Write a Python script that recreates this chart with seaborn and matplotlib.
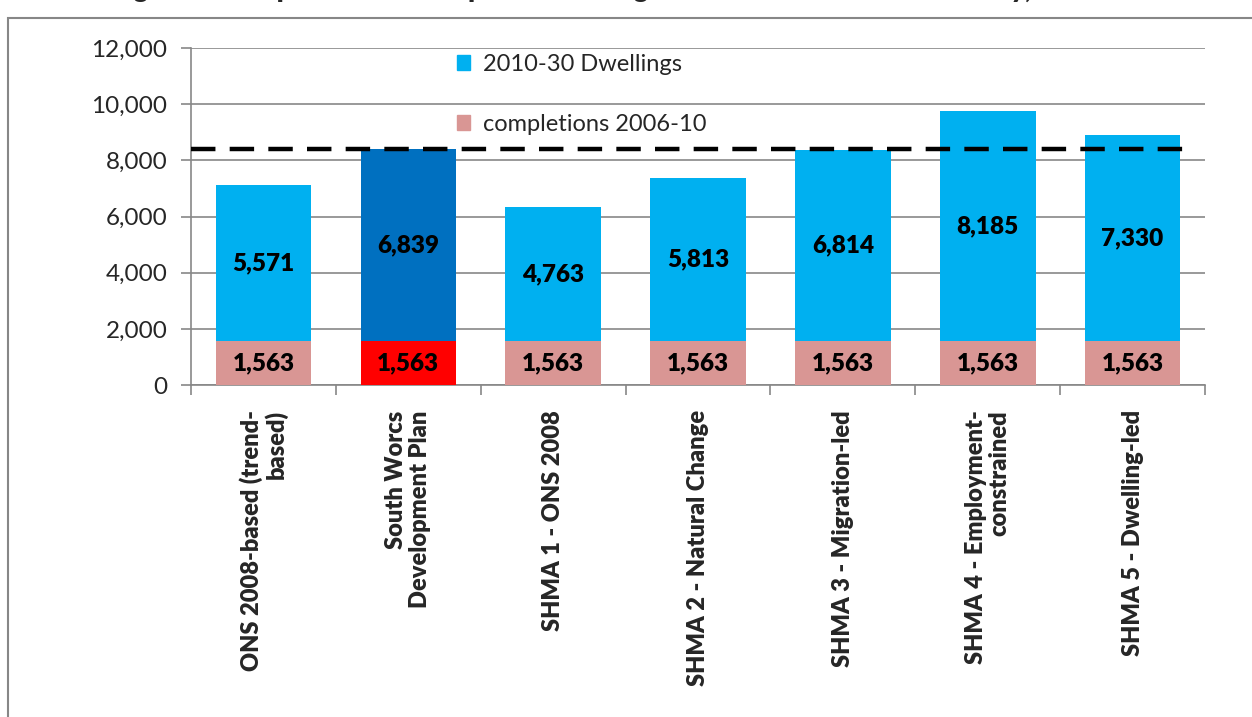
import matplotlib
matplotlib.use("Agg")
import matplotlib.pyplot as plt
import matplotlib.patches as mpatches
from matplotlib.ticker import FuncFormatter, MultipleLocator
import seaborn as sns
import pandas as pd

# Scenario data (dwellings)
scenarios = [
    "ONS 2008-based (trend-\nbased)",
    "South Worcs\nDevelopment Plan",
    "SHMA 1 - ONS 2008",
    "SHMA 2 - Natural Change",
    "SHMA 3 - Migration-led",
    "SHMA 4 - Employment-\nconstrained",
    "SHMA 5 - Dwelling-led",
]
completions_2006_10 = [1563, 1563, 1563, 1563, 1563, 1563, 1563]
dwellings_2010_30 = [5571, 6839, 4763, 5813, 6814, 8185, 7330]
highlight = "South Worcs\nDevelopment Plan"
title = "Figure 6: Completions and Required Dwellings for Scenarios - Worcester City, 2006-30"

LIGHT_BLUE = "#00B0F0"
DARK_BLUE = "#0070C0"
PINK = "#D99694"
RED = "#FF0000"
GREY = "#878787"

df = pd.DataFrame({
    "scenario": scenarios,
    "completions": completions_2006_10,
    "dwellings": dwellings_2010_30,
})
df["total"] = df["completions"] + df["dwellings"]
reference_level = float(df.loc[df["scenario"] == highlight, "total"].iloc[0])

sns.set_style("white")
plt.rcParams["font.family"] = ["Lato", "DejaVu Sans"]

fig = plt.figure(figsize=(12.52, 7.17), dpi=100)
ax = fig.add_axes([0.1526, 0.463, 0.8099, 0.470])

top_colors = [DARK_BLUE if s == highlight else LIGHT_BLUE for s in scenarios]
bottom_colors = [RED if s == highlight else PINK for s in scenarios]

# Upper segment drawn as the full stack height, lower segment over it
sns.barplot(data=df, x="scenario", y="total", hue="scenario",
            palette=top_colors, legend=False, width=0.66,
            saturation=1, ax=ax, zorder=2)
sns.barplot(data=df, x="scenario", y="completions", hue="scenario",
            palette=bottom_colors, legend=False, width=0.66,
            saturation=1, ax=ax, zorder=3)
for p in ax.patches:
    p.set_edgecolor("none")

# Value labels centred in each segment
for i, row in df.iterrows():
    ax.text(i, row["completions"] / 2, f"{row['completions']:,}",
            ha="center", va="center", fontsize=17.5, fontweight="heavy",
            color="black", zorder=5)
    ax.text(i, row["completions"] + row["dwellings"] / 2, f"{row['dwellings']:,}",
            ha="center", va="center", fontsize=17.5, fontweight="heavy",
            color="black", zorder=5)

# Reference dashed line at the development-plan total
ax.plot([-0.5, 6.35], [reference_level, reference_level], color="black",
        lw=3.2, ls=(0, (5.5, 3.2)), zorder=6, solid_capstyle="butt",
        dash_capstyle="butt", clip_on=False)

ax.set_ylim(0, 12000)
ax.set_xlim(-0.5, len(scenarios) - 0.5)
ax.yaxis.set_major_locator(MultipleLocator(2000))
ax.yaxis.set_major_formatter(FuncFormatter(lambda v, _: f"{int(v):,}"))
ax.grid(axis="y", color=GREY, lw=1.2, zorder=0)
ax.set_axisbelow(True)
ax.set_xlabel("")
ax.set_ylabel("")

for side in ("top", "right"):
    ax.spines[side].set_visible(False)
for side in ("left", "bottom"):
    ax.spines[side].set_color(GREY)
    ax.spines[side].set_linewidth(1.2)

ax.tick_params(axis="y", which="major", direction="out", length=7,
               width=1.2, color=GREY, labelsize=17.5, pad=10, left=True)

# Category ticks sit between bars
ax.set_xticks(range(len(scenarios)))
ax.set_xticklabels([])
ax.tick_params(axis="x", which="major", length=0)
ax.set_xticks([i - 0.5 for i in range(len(scenarios) + 1)], minor=True)
ax.tick_params(axis="x", which="minor", direction="out", length=7,
               width=1.2, color=GREY, bottom=True)

for i, name in enumerate(scenarios):
    ax.text(i, -0.075, name, transform=ax.get_xaxis_transform(),
            rotation=90, ha="center", va="top", multialignment="right",
            fontsize=17, fontweight="heavy", linespacing=1.1)

# Legend
handles = [mpatches.Patch(color=LIGHT_BLUE, label="2010-30 Dwellings"),
           mpatches.Patch(color=PINK, label="completions 2006-10")]
ax.legend(handles=handles, loc="upper left", bbox_to_anchor=(0.246, 1.032),
          frameon=False, fontsize=17, handlelength=0.55, handleheight=0.55,
          handletextpad=0.55, labelspacing=1.65, borderaxespad=0.3)

# Outer chart frame
fig.add_artist(mpatches.Rectangle((8 / 1252, -0.01), 1.2, 1 - 18 / 717 + 0.01,
                                  transform=fig.transFigure, fill=False,
                                  edgecolor=GREY, lw=1.5))

# Caption above the frame; only its lowest strokes fall inside the canvas
fig.text(0.5, 1.0 - 2 / 717, title, ha="center", va="bottom",
         fontsize=19, fontweight="heavy")

fig.savefig("out.png", dpi=100)
